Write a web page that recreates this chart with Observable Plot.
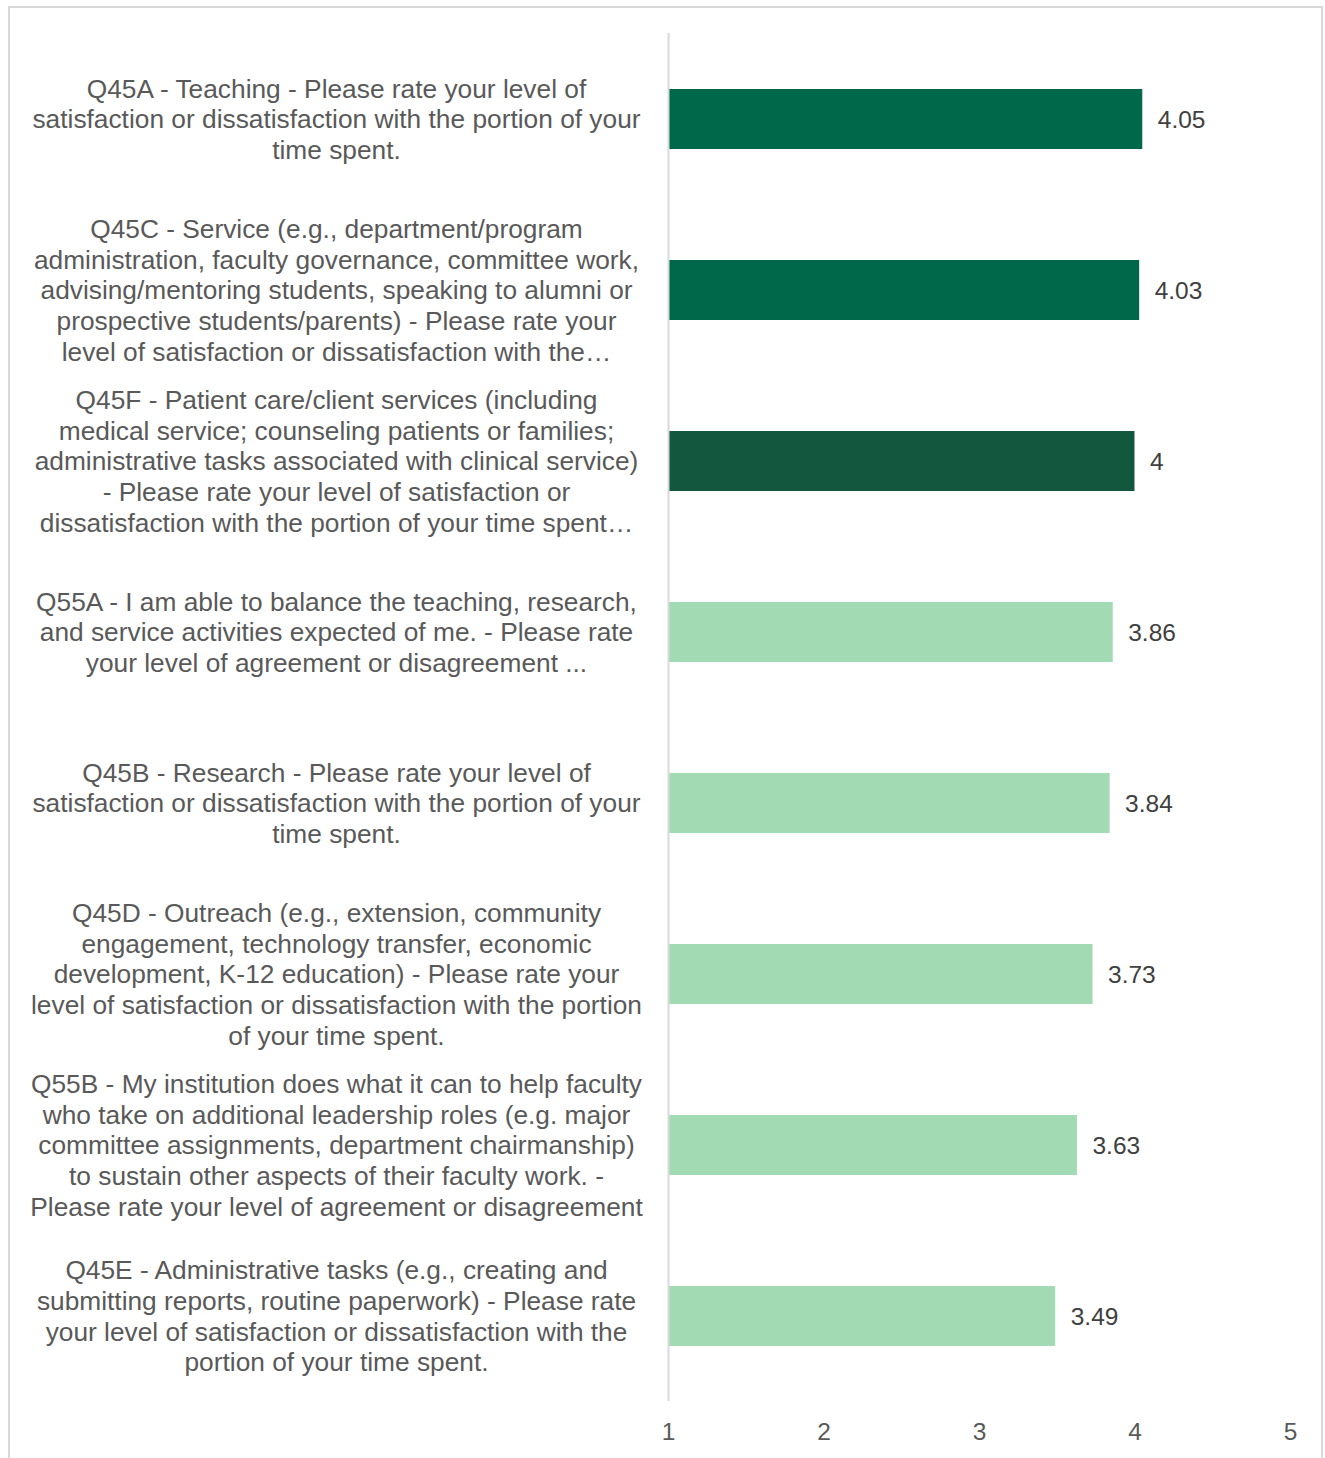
<!DOCTYPE html>
<html>
<head>
<meta charset="utf-8">
<script src="https://cdn.jsdelivr.net/npm/d3@7"></script>
<script src="https://cdn.jsdelivr.net/npm/@observablehq/plot@0.6"></script>
<style>
  html, body { margin: 0; padding: 0; background: #fff; }
  #frame { position: absolute; left: 8px; top: 6px; width: 1315px; height: 1460px; border: 2px solid #d9d9d9; box-sizing: border-box; }
  #chart { position: absolute; left: 0; top: 0; }
  svg { font-family: "Liberation Sans", Arial, sans-serif; }
</style>
</head>
<body>
<div id="frame"></div>
<div id="chart"></div>
<script>
const labels = [
  "Q45A - Teaching - Please rate your level of\nsatisfaction or dissatisfaction with the portion of your\ntime spent.",
  "Q45C - Service (e.g., department/program\nadministration, faculty governance, committee work,\nadvising/mentoring students, speaking to alumni or\nprospective students/parents) - Please rate your\nlevel of satisfaction or dissatisfaction with the…",
  "Q45F - Patient care/client services (including\nmedical service; counseling patients or families;\nadministrative tasks associated with clinical service)\n- Please rate your level of satisfaction or\ndissatisfaction with the portion of your time spent…",
  "Q55A - I am able to balance the teaching, research,\nand service activities expected of me. - Please rate\nyour level of agreement or disagreement ...",
  "Q45B - Research - Please rate your level of\nsatisfaction or dissatisfaction with the portion of your\ntime spent.",
  "Q45D - Outreach (e.g., extension, community\nengagement, technology transfer, economic\ndevelopment, K-12 education) - Please rate your\nlevel of satisfaction or dissatisfaction with the portion\nof your time spent.",
  "Q55B - My institution does what it can to help faculty\nwho take on additional leadership roles (e.g. major\ncommittee assignments, department chairmanship)\nto sustain other aspects of their faculty work. -\nPlease rate your level of agreement or disagreement",
  "Q45E - Administrative tasks (e.g., creating and\nsubmitting reports, routine paperwork) - Please rate\nyour level of satisfaction or dissatisfaction with the\nportion of your time spent."
];
const values = [4.05, 4.03, 4, 3.86, 3.84, 3.73, 3.63, 3.49];
const valueText = ["4.05", "4.03", "4", "3.86", "3.84", "3.73", "3.63", "3.49"];
const colors = ["#00684A", "#00684A", "#13573F", "#A2DBB3", "#A2DBB3", "#A2DBB3", "#A2DBB3", "#A2DBB3"];
const xTicks = [1, 2, 3, 4, 5];

const data = labels.map((l, i) => ({label: l, value: values[i], text: valueText[i], color: colors[i]}));

const chart = Plot.plot({
  width: 1325,
  height: 1458,
  marginLeft: 668,
  marginRight: 35,
  marginTop: 33,
  marginBottom: 57,
  style: {fontFamily: '"Liberation Sans", Arial, sans-serif', background: "transparent"},
  x: {domain: [1, 5], ticks: xTicks},
  y: {domain: labels, paddingInner: 0.65, paddingOuter: 0.325},
  marks: [
    Plot.barX(data, {y: "label", x1: 1, x2: "value", fill: "color"}),
    Plot.ruleX([1], {stroke: "#d9d9d9", strokeWidth: 2}),
    Plot.text(data, {y: "label", x: "value", text: "text", textAnchor: "start", dx: 15, dy: 1, fontSize: 24.5, fill: "#404040"}),
    Plot.axisX({ticks: xTicks, tickFormat: "d", tickSize: 0, tickPadding: 21, fontSize: 24.5, color: "#595959", label: null}),
    Plot.axisY({tickSize: 0, tickPadding: 0, dx: -332, dy: -1, textAnchor: "middle", fontSize: 26.3, lineHeight: 1.167, color: "#595959", label: null, lineWidth: Infinity})
  ]
});
document.getElementById("chart").appendChild(chart);
</script>
</body>
</html>
